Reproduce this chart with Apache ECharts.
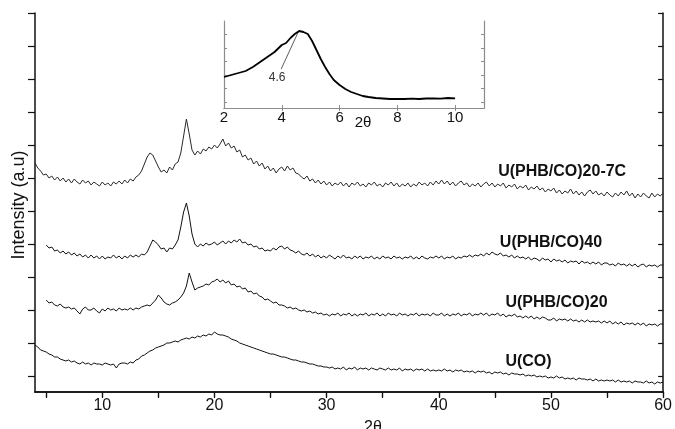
<!DOCTYPE html>
<html>
<head>
<meta charset="utf-8">
<script src="https://cdn.jsdelivr.net/npm/echarts@6/dist/echarts.min.js"></script>
<style>
  html, body { margin: 0; padding: 0; background: #fff; }
  #chart { width: 675px; height: 429px; }
</style>
</head>
<body>
<div id="chart"></div>
<script>
// XRD scans: 2θ grid (degrees) shared by the four wide-angle patterns
const scanAngles = [
  4.00,4.25,4.50,4.75, 5.00,5.25,5.50,5.75, 6.00,6.25,6.50,6.75, 7.00,7.25,7.50,7.75,
  8.00,8.25,8.50,8.75, 9.00,9.25,9.50,9.75, 10.00,10.25,10.50,10.75, 11.00,11.25,11.50,11.75,
  12.00,12.25,12.50,12.75, 13.00,13.25,13.50,13.75, 14.00,14.25,14.50,14.75, 15.00,15.25,15.50,15.75,
  16.00,16.25,16.50,16.75, 17.00,17.25,17.50,17.75, 18.00,18.25,18.50,18.75, 19.00,19.25,19.50,19.75,
  20.00,20.25,20.50,20.75, 21.00,21.25,21.50,21.75, 22.00,22.25,22.50,22.75, 23.00,23.25,23.50,23.75,
  24.00,24.25,24.50,24.75, 25.00,25.25,25.50,25.75, 26.00,26.25,26.50,26.75, 27.00,27.25,27.50,27.75,
  28.00,28.25,28.50,28.75, 29.00,29.25,29.50,29.75, 30.00,30.25,30.50,30.75, 31.00,31.25,31.50,31.75,
  32.00,32.25,32.50,32.75, 33.00,33.25,33.50,33.75, 34.00,34.25,34.50,34.75, 35.00,35.25,35.50,35.75,
  36.00,36.25,36.50,36.75, 37.00,37.25,37.50,37.75, 38.00,38.25,38.50,38.75, 39.00,39.25,39.50,39.75,
  40.00,40.25,40.50,40.75, 41.00,41.25,41.50,41.75, 42.00,42.25,42.50,42.75, 43.00,43.25,43.50,43.75,
  44.00,44.25,44.50,44.75, 45.00,45.25,45.50,45.75, 46.00,46.25,46.50,46.75, 47.00,47.25,47.50,47.75,
  48.00,48.25,48.50,48.75, 49.00,49.25,49.50,49.75, 50.00,50.25,50.50,50.75, 51.00,51.25,51.50,51.75,
  52.00,52.25,52.50,52.75, 53.00,53.25,53.50,53.75, 54.00,54.25,54.50,54.75, 55.00,55.25,55.50,55.75,
  56.00,56.25,56.50,56.75, 57.00,57.25,57.50,57.75, 58.00,58.25,58.50,58.75, 59.00,59.25,59.50,59.75,
  60.00
];

// Intensities (a.u.), each pattern already offset vertically for the stacked display
const intensity20_7C = [
  229,224,221,217, 218,214,216,212, 215,211,214,210, 213,209,213,210,
  208,212,209,211, 207,210,208,206, 210,207,209,206, 210,208,211,208,
  212,209,213,211, 215,217,221,228, 235,239,237,231, 225,220,222,219,
  225,222,228,230, 239,256,273,258, 242,237,241,238, 243,241,245,243,
  247,244,248,253, 246,249,244,246, 240,242,235,237, 232,234,228,231,
  226,229,223,226, 221,224,219,223, 225,221,226,222, 224,219,218,215,
  213,216,211,213, 209,212,208,211, 207,210,206,209, 207,210,206,209,
  205,209,207,210, 206,208,205,209, 207,210,206,208, 205,209,207,210,
  206,209,205,208, 206,209,205,208, 206,210,207,209, 206,210,207,211,
  208,212,208,211, 207,210,206,209, 211,207,209,205, 208,206,209,205,
  208,210,206,209, 205,208,206,209, 204,207,205,208, 203,206,204,207,
  202,205,203,206, 202,204,200,203, 201,204,199,202, 198,201,199,203,
  198,201,197,200, 196,200,202,198, 201,197,199,196, 200,197,195,199,
  196,200,197,201, 196,199,194,198, 195,199,196,194, 199,195,198,196,
  199
];

const intensity40 = [
  null,null,null,null, 147,144,145,141, 142,139,141,138, 140,137,139,136,
  138,135,137,134, 137,134,136,133, 136,133,135,134, 137,134,136,133,
  136,134,137,135, 137,135,138,137, 140,146,152,150, 147,143,144,140,
  144,143,147,152, 165,180,189,176, 158,148,145,148, 146,149,147,148,
  150,147,149,151, 148,151,149,152, 150,153,149,150, 147,148,145,146,
  143,144,141,142, 141,144,142,145, 146,143,145,142, 141,139,141,138,
  137,139,136,138, 135,137,134,136, 134,137,135,133, 136,134,137,134,
  135,133,136,134, 136,133,135,134, 136,133,135,133, 136,134,135,133,
  136,134,135,133, 135,134,136,133, 135,133,136,134, 133,135,134,136,
  134,136,133,135, 134,136,133,135, 134,136,135,137, 135,137,136,138,
  136,139,137,140, 138,137,139,136, 137,135,137,134, 136,134,135,133,
  135,132,134,133, 131,134,132,133, 130,133,131,132, 130,132,129,131,
  130,131,128,131, 129,130,128,130, 128,130,127,129, 129,127,128,126,
  129,127,128,126, 128,126,128,125, 127,128,125,127, 126,127,125,127,
  127
];

const intensity20 = [
  null,null,null,null, 92,89,90,87, 86,88,85,84, 85,83,84,81,
  78,83,85,82, 82,84,81,79, 83,81,84,82, 83,81,84,82,
  83,82,84,82, 84,83,85,86, 87,86,89,92, 97,94,90,88,
  87,89,90,92, 95,99,106,119, 110,102,104,105, 106,108,107,110,
  111,113,110,112, 109,111,107,108, 105,106,103,104, 100,101,98,99,
  96,95,92,93, 91,89,90,87, 87,86,84,85, 83,84,82,81,
  82,80,81,79, 80,78,79,77, 78,76,78,77, 79,76,78,77,
  79,76,78,76, 78,77,79,76, 78,77,79,76, 78,76,79,77,
  78,76,79,77, 78,76,78,77, 79,76,78,77, 78,76,79,77,
  77,79,76,78, 76,78,77,79, 76,78,77,79, 76,78,77,79,
  77,79,76,78, 77,79,76,78, 75,77,76,78, 75,76,74,76,
  74,76,73,75, 73,75,74,72, 72,74,71,73, 72,73,71,73,
  71,72,70,72, 70,72,70,71, 70,71,69,71, 69,71,68,70,
  68,70,67,69, 68,69,67,69, 67,69,66,68, 67,68,66,68,
  68
];

const intensityCO = [
  47,45,42,41, 40,38,37,35, 35,33,32,31, 32,30,31,29,
  28,30,28,29, 27,29,28,28, 27,29,28,27, 28,24,28,29,
  29,28,30,29, 32,33,36,37, 39,41,42,44, 45,46,47,49,
  49,50,51,50, 52,53,54,53, 55,54,56,55, 57,56,58,57,
  60,58,57,57, 56,55,53,52, 51,49,48,47, 46,45,44,43,
  42,41,40,39, 38,38,37,36, 35,35,34,33, 32,32,31,30,
  30,29,28,28, 27,26,26,25, 25,24,25,23, 24,23,25,22,
  24,23,25,22, 24,23,24,22, 24,23,22,24, 23,22,24,22,
  23,22,24,21, 23,22,23,21, 23,22,23,21, 23,21,22,21,
  22,21,23,21, 22,20,22,21, 22,20,21,20, 21,19,21,20,
  21,19,20,18, 20,19,20,18, 19,17,19,18, 18,17,18,16,
  17,16,17,15, 16,15,16,14, 15,14,16,14, 15,13,14,13,
  14,12,14,13, 13,12,13,11, 13,11,12,11, 12,11,12,10,
  12,10,11,10, 11,9,11,10, 10,9,11,9, 10,8,10,9,
  10
];

// Low-angle scan shown in the inset
const anglesLow = [2.0,2.25,2.5,2.75,3.0,3.25,3.5,3.75,4.0,4.15,4.3,4.45,4.6,4.75,4.9,5.05,5.2,5.35,5.5,5.65,5.8,6.0,6.2,6.4,6.6,6.8,7.0,7.25,7.5,7.75,8.0,8.25,8.5,8.75,9.0,9.25,9.5,9.75,10.0];
const intensityLow = [31,33,35,37,41,46,51,56,63,65,70,74,77,76,74,67,58,49,41,34,28,23,19,16,14,12,11,10,9.5,9,9,9,9.3,9,9.5,9.7,9.3,10,9.7];
const lowPeakAngle = 4.6;

const sampleNames = ['U(PHB/CO)20-7C', 'U(PHB/CO)40', 'U(PHB/CO)20', 'U(CO)'];
const nameAnchors = [[51.0, 220], [50.0, 149], [50.5, 89], [48.0, 30]];

const mainTicksX = [10, 20, 30, 40, 50, 60];
const minorTicksX = [5, 10, 15, 20, 25, 30, 35, 40, 45, 50, 55, 60];
const mainTicksY = [16, 49, 82, 115, 148, 181, 214, 247, 280, 313, 346, 379];
const insetTicksX = [2, 4, 6, 8, 10];
const insetTicksY = [6, 19.5, 33, 46.5, 60, 73.5];

const zip = (xs, ys) => xs.map((x, i) => [x, ys[i]]).filter(p => p[1] !== null);

const FONT = 'Liberation Sans, Arial, sans-serif';
const frame = '#111';
const insetFrame = '#8c8c8c';

function nameMark(i) {
  return {
    silent: true,
    symbol: 'circle',
    symbolSize: 1,
    itemStyle: { color: 'rgba(0,0,0,0)' },
    label: {
      show: true, position: 'inside', formatter: sampleNames[i],
      fontFamily: FONT, fontWeight: 'bold', fontSize: 16, color: '#111'
    },
    data: [{ coord: nameAnchors[i] }]
  };
}

function trace(values, i, color) {
  return {
    type: 'line', xAxisIndex: 0, yAxisIndex: 0,
    data: zip(scanAngles, values), showSymbol: false, symbol: 'none',
    lineStyle: { color: color, width: 1 }, animation: false,
    markPoint: nameMark(i)
  };
}

const chart = echarts.init(document.getElementById('chart'), null, { renderer: 'canvas' });

chart.setOption({
  animation: false,
  backgroundColor: '#fff',
  grid: [
    { left: 35, right: 7, top: 13, bottom: 37 },
    { left: 224, top: 21, width: 260, height: 87, show: true, backgroundColor: '#fff', borderWidth: 0, z: 5 }
  ],
  xAxis: [
    { gridIndex: 0, type: 'value', min: 4, max: 60, position: 'bottom',
      axisLine: { lineStyle: { color: frame, width: 1.5 } },
      axisTick: { show: true, inside: false, length: 5, customValues: minorTicksX, lineStyle: { color: frame, width: 1.2 } },
      axisLabel: { customValues: mainTicksX, fontFamily: FONT, fontSize: 16, color: '#111', margin: 6 },
      splitLine: { show: false } },
    { gridIndex: 0, type: 'value', min: 4, max: 60, position: 'top',
      axisLine: { lineStyle: { color: frame, width: 1.5 } },
      axisTick: { show: true, inside: true, length: 6, customValues: minorTicksX, lineStyle: { color: frame, width: 1.2 } },
      axisLabel: { show: false }, splitLine: { show: false } },
    { gridIndex: 1, type: 'value', min: 2, max: 11, position: 'bottom', z: 6,
      axisLine: { lineStyle: { color: insetFrame, width: 1.2 } },
      axisTick: { show: true, inside: true, length: 3, customValues: insetTicksX, lineStyle: { color: insetFrame } },
      axisLabel: { customValues: insetTicksX, fontFamily: FONT, fontSize: 15, color: '#111', margin: 2 },
      splitLine: { show: false } },
    { gridIndex: 1, type: 'value', min: 2, max: 11, position: 'top', z: 6,
      axisLine: { lineStyle: { color: insetFrame, width: 1.2 } },
      axisTick: { show: true, inside: true, length: 3, customValues: insetTicksX.slice(1), lineStyle: { color: insetFrame } },
      axisLabel: { show: false }, splitLine: { show: false } }
  ],
  yAxis: [
    { gridIndex: 0, type: 'value', min: 0, max: 379, position: 'left',
      axisLine: { show: true, lineStyle: { color: frame, width: 1.5 } },
      axisTick: { show: true, inside: false, length: 7, customValues: mainTicksY, lineStyle: { color: frame, width: 1.2 } },
      axisLabel: { show: false }, splitLine: { show: false } },
    { gridIndex: 0, type: 'value', min: 0, max: 379, position: 'right',
      axisLine: { show: true, lineStyle: { color: frame, width: 1.5 } },
      axisTick: { show: true, inside: true, length: 5, customValues: mainTicksY, lineStyle: { color: frame, width: 1.2 } },
      axisLabel: { show: false }, splitLine: { show: false } },
    { gridIndex: 1, type: 'value', min: 0, max: 87, position: 'left', z: 6,
      axisLine: { show: true, lineStyle: { color: insetFrame, width: 1.2 } },
      axisTick: { show: true, inside: true, length: 3, customValues: insetTicksY, lineStyle: { color: insetFrame } },
      axisLabel: { show: false }, splitLine: { show: false } },
    { gridIndex: 1, type: 'value', min: 0, max: 87, position: 'right', z: 6,
      axisLine: { show: true, lineStyle: { color: insetFrame, width: 1.2 } },
      axisTick: { show: true, inside: true, length: 3, customValues: insetTicksY, lineStyle: { color: insetFrame } },
      axisLabel: { show: false }, splitLine: { show: false } }
  ],
  graphic: [
    { type: 'text', z: 10, x: 19, y: 205, rotation: Math.PI / 2,
      style: { text: 'Intensity (a.u)', font: '18px ' + FONT, fill: '#111', textAlign: 'center', textVerticalAlign: 'middle' } },
    { type: 'text', z: 10, x: 373, y: 420,
      style: { text: '2θ', font: '16px ' + FONT, fill: '#111', textAlign: 'center', textVerticalAlign: 'top' } },
    { type: 'text', z: 10, x: 363, y: 123,
      style: { text: '2θ', font: '15px ' + FONT, fill: '#111', textAlign: 'center', textVerticalAlign: 'middle' } }
  ],
  series: [
    trace(intensity20_7C, 0, '#2a2a2a'),
    trace(intensity40, 1, '#111'),
    trace(intensity20, 2, '#111'),
    trace(intensityCO, 3, '#111'),
    {
      type: 'line', xAxisIndex: 2, yAxisIndex: 2, z: 7,
      data: zip(anglesLow, intensityLow), showSymbol: false, symbol: 'none',
      lineStyle: { color: '#000', width: 1.8 },
      markPoint: {
        silent: true, symbol: 'circle', symbolSize: 1, itemStyle: { color: 'rgba(0,0,0,0)' },
        label: { show: true, position: 'inside', formatter: String(lowPeakAngle), fontFamily: FONT, fontSize: 12, color: '#333' },
        data: [{ coord: [3.84, 30] }]
      },
      markLine: {
        silent: true, symbol: 'none',
        lineStyle: { color: '#333', width: 0.8, type: 'solid' },
        label: { show: false },
        data: [[{ coord: [3.98, 39] }, { coord: [lowPeakAngle - 0.03, 76] }]]
      }
    }
  ]
});
</script>
</body>
</html>
